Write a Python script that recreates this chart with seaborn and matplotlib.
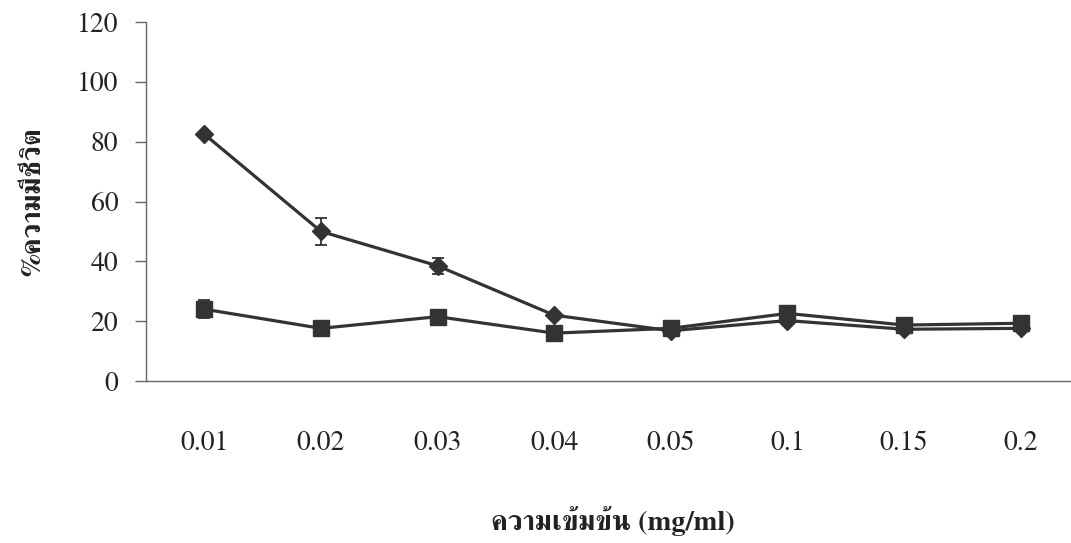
import matplotlib
matplotlib.use('Agg')
import matplotlib.pyplot as plt
from matplotlib.ticker import FixedLocator
import pandas as pd
import seaborn as sns

concentrations = ['0.01', '0.02', '0.03', '0.04', '0.05', '0.1', '0.15', '0.2']
diamond_values = [82.5, 50.0, 38.5, 22.0, 16.8, 20.2, 17.3, 17.6]
diamond_errors = [0.8, 4.5, 2.7, 0.5, 0.5, 0.6, 0.5, 0.5]
square_values = [24.0, 17.6, 21.5, 16.0, 17.6, 22.6, 18.7, 19.3]
square_errors = [3.0, 0.5, 0.6, 0.5, 0.5, 0.5, 0.5, 0.5]

y_label = '%ความมีชีวิต'
x_label = 'ความเข้มข้น (mg/ml)'

sns.set_style('white')
plt.rcParams['font.family'] = ['FreeSerif', 'DejaVu Serif']

line_color = '#333333'
axis_color = '#666666'
text_color = '#222222'

df = pd.DataFrame({
    'conc': concentrations * 2,
    'value': diamond_values + square_values,
    'err': diamond_errors + square_errors,
    'series': ['diamond'] * len(concentrations) + ['square'] * len(concentrations),
})

fig = plt.figure(figsize=(10.71, 5.43), dpi=100)
ax = fig.add_axes([146 / 1071, 162 / 543, 933 / 1071, 359 / 543])

# error bars first so markers sit on top of them
for name in ['diamond', 'square']:
    part = df[df['series'] == name]
    ax.errorbar(part['conc'], part['value'], yerr=part['err'], fmt='none',
                ecolor=line_color, elinewidth=1.3, capsize=4.5, capthick=1.3,
                zorder=2)

sns.lineplot(data=df[df['series'] == 'diamond'], x='conc', y='value',
             sort=False, color=line_color, linewidth=2.3, marker='D',
             markersize=9.3, markeredgecolor=line_color, markeredgewidth=1,
             ax=ax, zorder=3)
sns.lineplot(data=df[df['series'] == 'square'], x='conc', y='value',
             sort=False, color=line_color, linewidth=2.3, marker='s',
             markersize=11.3, markeredgecolor=line_color, markeredgewidth=1,
             ax=ax, zorder=4)

ax.set_xlim(-0.5, len(concentrations) - 0.5)
ax.set_ylim(0, 120)
ax.set_yticks(range(0, 121, 20))

# category boundaries get the tick marks, labels sit at the centres
ax.xaxis.set_minor_locator(FixedLocator([i - 0.5 for i in range(len(concentrations) + 1)]))
ax.tick_params(axis='x', which='major', length=0, pad=36, labelsize=20,
               labelcolor=text_color)
ax.tick_params(axis='x', which='minor', direction='out', length=8,
               width=1, color=axis_color)
ax.tick_params(axis='y', direction='out', length=8, width=1, color=axis_color,
               pad=12, labelsize=20, labelcolor=text_color, left=True)

for side in ['top', 'right']:
    ax.spines[side].set_visible(False)
for side in ['left', 'bottom']:
    ax.spines[side].set_color(axis_color)
    ax.spines[side].set_linewidth(1)

ax.set_xlabel(x_label, fontsize=20.5, fontweight='bold', color=text_color)
ax.set_ylabel(y_label, fontsize=20.5, fontweight='bold', color=text_color)
ax.xaxis.set_label_coords(0.5, -0.39)
ax.xaxis.label.set_verticalalignment('center')
ax.yaxis.set_label_coords(-0.12, 0.5)
ax.yaxis.label.set_verticalalignment('center')

fig.savefig('out.png', dpi=100)
